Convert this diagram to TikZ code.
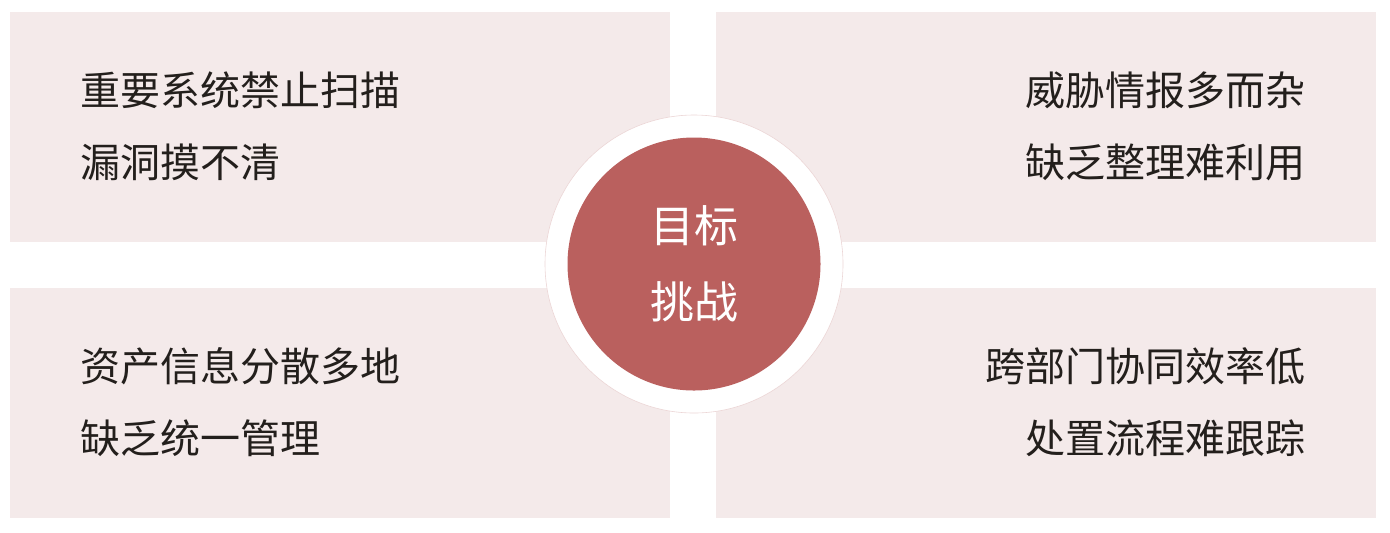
\documentclass[tikz,border=0pt]{standalone}
\usepackage{fontspec}
\newfontfamily\cjk{Noto Sans CJK SC}
\usetikzlibrary{positioning}
\definecolor{mypink}{RGB}{244,234,234}
\definecolor{myred}{RGB}{186,96,94}
\definecolor{myink}{RGB}{35,31,28}
\definecolor{myrim}{RGB}{236,214,214}
\tikzset{
  panel/.style={draw=none,fill=mypink,minimum width=330pt,minimum height=115pt,
    inner sep=0,outer sep=0},
  lefttext/.style={anchor=west,align=left,text=myink,inner sep=0,
    font=\cjk\fontsize{20}{36}\selectfont},
  righttext/.style={anchor=east,align=right,text=myink,inner sep=0,
    font=\cjk\fontsize{20}{36}\selectfont},
  ring/.style={circle,draw=myrim,line width=0.3pt,fill=white,minimum size=149pt,inner sep=0},
  core/.style={circle,draw=none,fill=myred,minimum size=126.5pt,inner sep=0,
    text=white,align=center,font=\cjk\fontsize{22}{38}\selectfont}
}

\begin{document}
\begin{tikzpicture}[x=0.5pt,y=-0.5pt]
\useasboundingbox (0,0) rectangle (1390,532);

%four panels
\node [panel] (tl) at (340,127) {};
\node [panel] (tr) at (1046,127) {};
\node [panel] (bl) at (340,403) {};
\node [panel] (br) at (1046,403) {};

\node [lefttext] (tltext) at (80,126) {重要系统禁止扫描\\漏洞摸不清};
\node [righttext] (trtext) at (1306,126) {威胁情报多而杂\\缺乏整理难利用};
\node [lefttext] (bltext) at (80,402) {资产信息分散多地\\缺乏统一管理};
\node [righttext] (brtext) at (1306,402) {跨部门协同效率低\\处置流程难跟踪};

%centre
\node [ring] (outer) at (694,264) {};
\node [core] (goal) at (694,264) {目标\\挑战};

\end{tikzpicture}
\end{document}
